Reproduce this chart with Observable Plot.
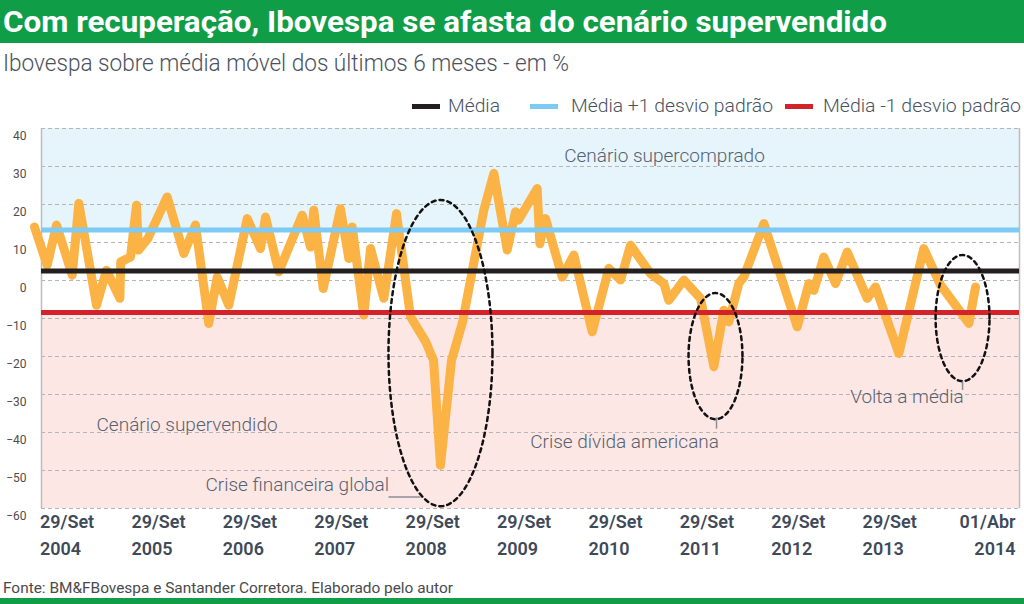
<!DOCTYPE html>
<html><head><meta charset="utf-8">
<script src="https://cdn.jsdelivr.net/npm/d3@7"></script>
<script src="https://cdn.jsdelivr.net/npm/@observablehq/plot@0.6"></script>
<style>
html,body{margin:0;padding:0;background:#fff;}
#page{position:relative;width:1024px;height:604px;overflow:hidden;font-family:Roboto,"Open Sans",sans-serif;}
.abs{position:absolute;white-space:nowrap;transform-origin:0 50%;}
#topbar{left:0;top:0;width:1024px;height:43px;background:#109d48;}
#bottombar{left:0;top:598px;width:1024px;height:6px;background:#109d48;}
#title{left:3px;top:7px;font-size:30px;line-height:30px;font-weight:700;color:#fff;}
#subtitle{left:3px;top:51px;font-size:24px;line-height:24px;font-weight:300;color:#4a5260;}
.leg{top:96px;font-size:19px;line-height:19px;font-weight:300;color:#4a5260;}
.sw{position:absolute;top:104px;height:5px;width:28px;}
#caption{left:3px;top:581px;font-size:15px;line-height:15px;color:#4a4a4a;}
#chart{position:absolute;left:0;top:115px;}
</style></head>
<body><div id="page">
<div id="topbar" class="abs"></div>
<div id="title" class="abs">Com recuperação, Ibovespa se afasta do cenário supervendido</div>
<div id="subtitle" class="abs">Ibovespa sobre média móvel dos últimos 6 meses - em %</div>
<div id="legend"></div>
<div id="chart"></div>
<div id="caption" class="abs">Fonte: BM&amp;FBovespa e Santander Corretora. Elaborado pelo autor</div>
<div id="bottombar" class="abs"></div>
</div>
<script>
// ---- data ----
// x position in axis units (one unit = one "29/Set" label step), value in %
const xPos = [-0.077,0.062,0.164,0.336,0.408,0.602,0.711,0.857,0.867,0.974,1.039,1.061,1.163,1.375,1.557,1.685,1.830,1.922,2.049,2.251,2.396,2.451,2.596,2.852,2.943,2.979,3.082,3.271,3.362,3.399,3.526,3.600,3.745,3.884,4.037,4.201,4.289,4.365,4.486,4.606,4.839,4.949,5.095,5.186,5.219,5.423,5.452,5.514,5.697,5.824,6.025,6.207,6.335,6.444,6.663,6.809,6.863,7.028,7.210,7.356,7.465,7.520,7.629,7.684,7.903,8.268,8.395,8.450,8.559,8.687,8.815,9.034,9.125,9.380,9.653,9.836,10.000,10.146,10.219];
const ibov = [14.1,4.0,14.6,1.4,20.3,-6.5,2.7,-4.7,4.9,6.2,19.8,8.0,11.0,22.0,7.1,14.6,-11.3,0.9,-6.5,16.3,8.4,16.7,2.3,17.2,8.8,18.5,-2.1,18.9,5.8,14.1,-9.1,8.4,-4.7,17.6,-9.5,-16.0,-21.0,-48.6,-21.0,-11.0,18.5,28.2,8.0,18.1,15.9,24.2,9.7,16.3,0.9,6.7,-13.5,3.2,0.1,9.3,1.8,-0.8,-5.2,0.1,-4.7,-22.7,-7.8,-10.9,-0.8,0.9,15.0,-12.2,-0.8,-2.6,6.2,-0.8,7.5,-4.7,-1.7,-19.2,8.4,-1.2,-6.5,-11.3,-1.7];

const refNames = ["Média", "Média +1 desvio padrão", "Média -1 desvio padrão"];
const refValues = [2.5, 13.3, -8.4];
const refColors = ["#231f20", "#7dcaf5", "#d2232a"];

const yTicks = [-60,-50,-40,-30,-20,-10,0,10,20,30,40];
const xTickPos = [0,1,2,3,4,5,6,7,8,9];
const xTickDays = ["29/Set","29/Set","29/Set","29/Set","29/Set","29/Set","29/Set","29/Set","29/Set","29/Set"];
const xTickYears = ["2004","2005","2006","2007","2008","2009","2010","2011","2012","2013"];
const xLastDay = "01/Abr", xLastYear = "2014";
const xExtent = [0, 10.7];
const yExtent = [-60, 40];

const annotNames = ["Cenário supercomprado","Cenário supervendido","Crise financeira global","Crise dívida americana","Volta a média"];
const annotX = [6.816, 0.602, 1.794, 6.379, 9.469];
const annotY = [32.7, -38.0, -53.9, -42.4, -30.6];

// dashed ellipses: center (x, value) and radii
const ellCx = [4.365, 7.374, 10.077];
const ellCy = [-19.1, -19.9, -9.9];
const ellRx = [0.569, 0.295, 0.295];
const ellRy = [40.3, 16.6, 16.6];
// leader lines
const leaders = [
  {x1: 3.796, y1: -57.0, x2: 4.147, y2: -57.0},
  {x1: 7.385, y1: -36.0, x2: 7.385, y2: -39.0},
  {x1: 10.077, y1: -26.5, x2: 10.077, y2: -28.8}
];

// ---- build ----
const series = xPos.map((x, i) => ({x, v: ibov[i]}));
const ellPts = [];
ellCx.forEach((cx, k) => {
  for (let a = 0; a <= 360; a += 3) {
    const r = a * Math.PI / 180;
    ellPts.push({k, x: cx + ellRx[k] * Math.cos(r), v: ellCy[k] + ellRy[k] * Math.sin(r)});
  }
});
const annots = annotNames.map((t, i) => ({t, x: annotX[i], y: annotY[i]}));
const textColor = "#566170";

const chart = Plot.plot({
  width: 1024, height: 450,
  marginTop: 13, marginBottom: 57, marginLeft: 41, marginRight: 5,
  x: {domain: xExtent},
  y: {domain: yExtent},
  style: {fontFamily: "Roboto, sans-serif", background: "transparent", overflow: "visible"},
  marks: [
    Plot.rect([0], {x1: () => xExtent[0], x2: () => xExtent[1], y1: () => yExtent[1], y2: () => refValues[1], fill: "#e6f4fc"}),
    Plot.rect([0], {x1: () => xExtent[0], x2: () => xExtent[1], y1: () => refValues[2], y2: () => yExtent[0], fill: "#fde7e5"}),
    Plot.gridY(yTicks, {stroke: "#b5b5b5", strokeOpacity: 1, strokeDasharray: "4,3"}),
    Plot.ruleX(xExtent, {stroke: "#bdbdbd", strokeWidth: 1.5}),
    Plot.axisY(yTicks, {tickSize: 0, tickPadding: 15, dy: 8, fontSize: 12, fill: "#4d4d4d"}),
    Plot.axisX(xTickPos, {tickSize: 0, tickPadding: 0, textAnchor: "start", dx: -1.5, lineHeight: 1.52, fontSize: 18, fontWeight: 600, fill: "#3f4a59",
      tickFormat: (d, i) => xTickDays[i] + "\n" + xTickYears[i]}),
    Plot.axisX([xExtent[1]], {tickSize: 0, tickPadding: 0, textAnchor: "end", dx: -4, lineHeight: 1.52, fontSize: 18, fontWeight: 600, fill: "#3f4a59",
      tickFormat: () => xLastDay + "\n" + xLastYear}),
    Plot.line(series, {x: "x", y: "v", stroke: "#fbb346", strokeWidth: 9, strokeLinejoin: "round", strokeLinecap: "round"}),
    ...refValues.map((v, i) => Plot.ruleY([v], {stroke: refColors[i], strokeWidth: 5})),
    Plot.line(ellPts, {x: "x", y: "v", z: "k", stroke: "#111", strokeWidth: 2.5, strokeDasharray: "4,4"}),
    Plot.link(leaders, {x1: "x1", y1: "y1", x2: "x2", y2: "y2", stroke: "#8a8f96", strokeWidth: 1.5}),
    Plot.text(annots.filter((d, i) => i === 1 || i === 2), {x: "x", y: "y", text: "t", textAnchor: "start", fontSize: 19, fontWeight: 300, fill: textColor}),
    Plot.text(annots.filter((d, i) => !(i === 1 || i === 2)), {x: "x", y: "y", text: "t", textAnchor: "middle", fontSize: 19, fontWeight: 300, fill: textColor})
  ]
});
document.getElementById("chart").appendChild(chart);

// ---- legend (HTML) ----
const legSwatchX = [412, 530, 785];
const legTextX = [448, 571, 823];
const legTextW = [52, 202, 198];
const legend = document.getElementById("legend");
refNames.forEach((n, i) => {
  const s = document.createElement("div");
  s.className = "sw"; s.style.left = legSwatchX[i] + "px"; s.style.background = refColors[i];
  legend.appendChild(s);
  const t = document.createElement("div");
  t.className = "abs leg"; t.id = "leg" + i; t.style.left = legTextX[i] + "px"; t.textContent = n;
  legend.appendChild(t);
});

function fitX(id, w) {
  const el = document.getElementById(id);
  el.style.transform = "none";
  const r = el.getBoundingClientRect().width;
  el.style.transform = "scaleX(" + (w / r) + ")";
}
function fitAll() {
  fitX("title", 884);
  fitX("subtitle", 566);
  fitX("caption", 450);
  refNames.forEach((n, i) => fitX("leg" + i, legTextW[i]));
}
fitAll();
if (document.fonts && document.fonts.ready) document.fonts.ready.then(fitAll);
</script>
</body></html>
